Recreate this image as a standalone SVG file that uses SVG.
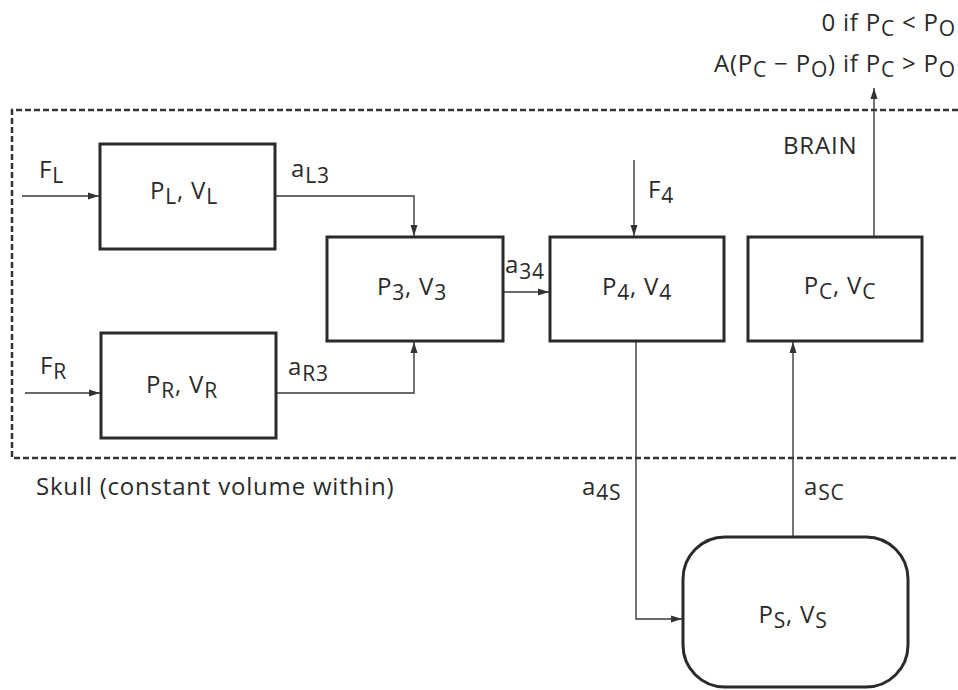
<svg xmlns="http://www.w3.org/2000/svg" width="958" height="690" viewBox="0 0 958 690">
<defs>
<marker id="ah" markerUnits="userSpaceOnUse" markerWidth="12" markerHeight="8" refX="11" refY="4" orient="auto">
<path d="M0,0.5 L11,4 L0,7.5 z" fill="#333"/>
</marker>
<style>
text{font-family:"Open Sans","Liberation Sans",sans-serif;font-size:24px;letter-spacing:0.8px;fill:#2a2a2a}
.s{font-size:21px}
.box{fill:#fff;stroke:#2a2a2a;stroke-width:3}
.ar{fill:none;stroke:#3a3a3a;stroke-width:1.4;marker-end:url(#ah)}
.skull{fill:none;stroke:#333;stroke-width:2.5;stroke-dasharray:6 3}
.m{text-anchor:middle}
.e{text-anchor:end}
</style>
</defs>
<rect width="958" height="690" fill="#fff"/>
<g id="skull">
<path class="skull" d="M958,110 H12 V458 H958"/>
<text x="36" y="495">Skull (constant volume within)</text>
</g>
<g id="brain-label"><text x="783" y="154">BRAIN</text></g>
<g id="outflow-label">
<text class="e" x="956" y="31">0 if P<tspan class="s" dy="5">C</tspan><tspan dy="-5"> &lt; P</tspan><tspan class="s" dy="5">O</tspan></text>
<text class="e" x="956" y="72">A(P<tspan class="s" dy="5">C</tspan><tspan dy="-5"> − P</tspan><tspan class="s" dy="5">O</tspan><tspan dy="-5">) if P</tspan><tspan class="s" dy="5">C</tspan><tspan dy="-5"> &gt; P</tspan><tspan class="s" dy="5">O</tspan></text>
</g>
<g id="connectors">
<line class="ar" x1="22" y1="196" x2="99" y2="196"/>
<line class="ar" x1="25" y1="393" x2="100" y2="393"/>
<polyline class="ar" points="275,196 414,196 414,236"/>
<polyline class="ar" points="276,393 414,393 414,342"/>
<line class="ar" x1="503" y1="292" x2="549" y2="292"/>
<line class="ar" x1="634" y1="160" x2="634" y2="236"/>
<polyline class="ar" points="636,341 636,619 682,619"/>
<line class="ar" x1="793" y1="537" x2="793" y2="342"/>
<line class="ar" x1="874" y1="237" x2="874" y2="88"/>
</g>
<g id="labels">
<text x="39" y="178">F<tspan class="s" dy="5">L</tspan></text>
<text x="40" y="374">F<tspan class="s" dy="5">R</tspan></text>
<text x="291" y="177">a<tspan class="s" dy="6">L3</tspan></text>
<text x="288" y="375">a<tspan class="s" dy="6">R3</tspan></text>
<text x="505" y="273">a<tspan class="s" dy="6">34</tspan></text>
<text x="648" y="198">F<tspan class="s" dy="5">4</tspan></text>
<text x="582" y="495">a<tspan class="s" dy="5">4S</tspan></text>
<text x="804" y="495">a<tspan class="s" dy="5">SC</tspan></text>
</g>
<g id="node-L">
<rect class="box" x="100" y="144" width="175" height="105"/>
<text class="m" x="184" y="199">P<tspan class="s" dy="5">L</tspan><tspan dy="-5">, V</tspan><tspan class="s" dy="5">L</tspan></text>
</g>
<g id="node-R">
<rect class="box" x="101" y="333" width="175" height="105"/>
<text class="m" x="182" y="393">P<tspan class="s" dy="5">R</tspan><tspan dy="-5">, V</tspan><tspan class="s" dy="5">R</tspan></text>
</g>
<g id="node-3">
<rect class="box" x="327" y="237" width="176" height="104"/>
<text class="m" x="412" y="295">P<tspan class="s" dy="5">3</tspan><tspan dy="-5">, V</tspan><tspan class="s" dy="5">3</tspan></text>
</g>
<g id="node-4">
<rect class="box" x="550" y="237" width="174" height="104"/>
<text class="m" x="637" y="295">P<tspan class="s" dy="5">4</tspan><tspan dy="-5">, V</tspan><tspan class="s" dy="5">4</tspan></text>
</g>
<g id="node-C">
<rect class="box" x="748" y="237" width="174" height="104"/>
<text class="m" x="840" y="294">P<tspan class="s" dy="5">C</tspan><tspan dy="-5">, V</tspan><tspan class="s" dy="5">C</tspan></text>
</g>
<g id="node-S">
<rect class="box" x="683" y="537" width="225" height="150" rx="42" ry="42"/>
<text class="m" x="793" y="623">P<tspan class="s" dy="5">S</tspan><tspan dy="-5">, V</tspan><tspan class="s" dy="5">S</tspan></text>
</g>
</svg>
